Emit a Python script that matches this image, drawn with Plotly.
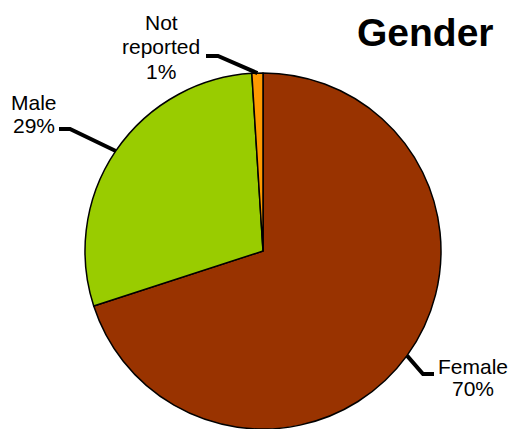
import math
import plotly.graph_objects as go

# ---- data ----
labels = ["Female", "Male", "Not reported"]
values = [70, 29, 1]
label_lines = [["Female", "70%"], ["Male", "29%"], ["Not", "reported", "1%"]]
colors = ["#993300", "#99CC00", "#FF9900"]
title_text = "Gender"

# ---- layout constants (pixels) ----
W, H = 513, 429
CX, CY, R = 263, 251, 178
FONT = "Liberation Sans, Arial, sans-serif"

def px(x):
    return x / W

def py(y):
    return 1 - y / H

fig = go.Figure(go.Pie(
    labels=labels, values=values, sort=False, direction="clockwise", rotation=0,
    marker=dict(colors=colors, line=dict(color="black", width=1.5)),
    textinfo="none", hoverinfo="label+percent", showlegend=False,
    domain=dict(x=[px(CX - R), px(CX + R)], y=[py(CY + R), py(CY - R)]),
))

# slice mid angles (clockwise from 12 o'clock)
total = sum(values)
mids = []
acc = 0
for v in values:
    mids.append((acc + v / 2) / total * 2 * math.pi)
    acc += v

# label placement: elbow, end of leader, text center x, first-line center y, line spacing
label_pos = [
    dict(elbow=(423, 374), end=(434, 374), tx=473, ty=366, dy=22.5),
    dict(elbow=(70, 129), end=(59, 129), tx=34, ty=103, dy=22.5),
    dict(elbow=(218, 56), end=(206, 56), tx=161, ty=22, dy=24.5),
]

shapes = []
annotations = []
for ang, lp, lines in zip(mids, label_pos, label_lines):
    sx = CX + R * math.sin(ang)
    sy = CY - R * math.cos(ang)
    ex, ey = lp["elbow"]
    fx, fy = lp["end"]
    path = f"M {px(sx)} {py(sy)} L {px(ex)} {py(ey)} L {px(fx)} {py(fy)}"
    shapes.append(dict(type="path", path=path, xref="paper", yref="paper",
                       line=dict(color="black", width=4)))
    for i, t in enumerate(lines):
        annotations.append(dict(
            text=t, x=px(lp["tx"]), y=py(lp["ty"] + i * lp["dy"]),
            xref="paper", yref="paper", xanchor="center", yanchor="middle",
            showarrow=False, font=dict(family=FONT, size=21, color="black"),
        ))

annotations.append(dict(
    text=f"<b>{title_text}</b>", x=px(425), y=py(33), xref="paper", yref="paper",
    xanchor="center", yanchor="middle", showarrow=False,
    font=dict(family=FONT, size=39, color="black"),
))

fig.update_layout(
    width=W, height=H, margin=dict(l=0, r=0, t=0, b=0),
    paper_bgcolor="white", plot_bgcolor="white",
    shapes=shapes, annotations=annotations,
)

fig.write_html("out.html", config={"displayModeBar": False},
               post_script="document.body.style.margin='0';document.body.style.overflow='hidden';")
